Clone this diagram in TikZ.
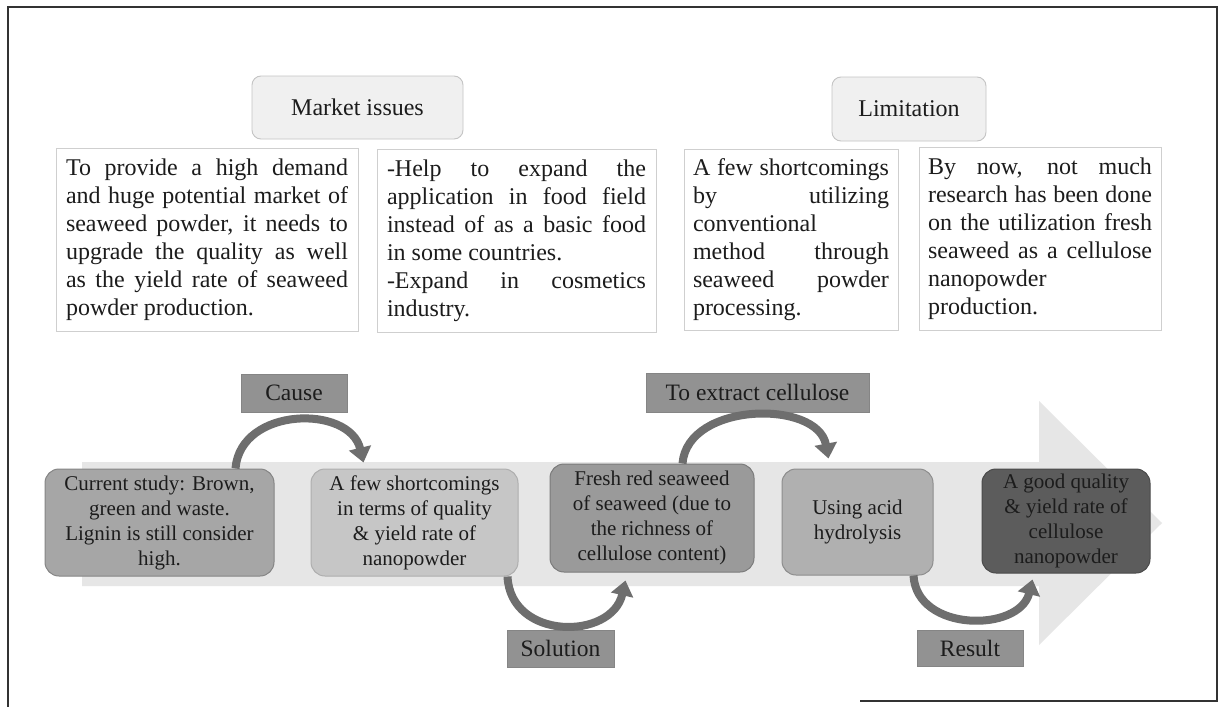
\documentclass[tikz,border=0pt]{standalone}
\usepackage{fontspec}
\setmainfont{Liberation Serif}
\usetikzlibrary{arrows.meta,calc}
\definecolor{framecol}{HTML}{333333}
\definecolor{bigarr}{HTML}{E6E6E6}
\definecolor{arrcol}{HTML}{6E6E6E}
\definecolor{hdfill}{HTML}{F0F0F0}
\definecolor{hdline}{HTML}{C4C4C4}
\definecolor{txline}{HTML}{CFCFCF}
\definecolor{lblfill}{HTML}{929292}
\definecolor{lblline}{HTML}{858585}
\definecolor{fa}{HTML}{A6A6A6}
\definecolor{fb}{HTML}{C6C6C6}
\definecolor{fc}{HTML}{9A9A9A}
\definecolor{fd}{HTML}{B0B0B0}
\definecolor{fe}{HTML}{5C5C5C}
\definecolor{txt}{HTML}{1C1C1C}
\newcommand{\jl}[1]{\makebox[\linewidth][s]{\spaceskip=0pt\xspaceskip=0pt\relax #1}\\}
\tikzset{
  hdbox/.style={draw=hdline, fill=hdfill, rounded corners=9pt, line width=0.9pt, inner sep=0pt, text=txt, font=\fontsize{24}{28}\selectfont},
  txbox/.style={draw=txline, fill=white, line width=0.9pt, inner xsep=10pt, inner ysep=0pt, align=justify, text=txt, font=\fontsize{24}{28}\selectfont},
  flbox/.style={rounded corners=14pt, line width=1pt, inner sep=0pt, align=center, text=txt, font=\fontsize{21}{25}\selectfont},
  lblbox/.style={draw=lblline, fill=lblfill, line width=0.8pt, inner sep=0pt, text=txt, font=\fontsize{23.5}{27}\selectfont},
  carrow/.style={draw=arrcol, line width=8pt, -{Triangle[width=22pt,length=15pt]}}
}
\begin{document}
\begin{tikzpicture}[x=1pt,y=-1pt]
\useasboundingbox (0,0) rectangle (1227,707);
\fill[white] (0,0) rectangle (1227,707);
% frame
\draw[framecol, line width=1.6pt] (8,707) -- (8,7) -- (1217,7) -- (1217,701) -- (860,701);
% big background arrow
\fill[bigarr] (82,462) -- (1039,462) -- (1039,401) -- (1162,523) -- (1039,645) -- (1039,586) -- (82,586) -- cycle;

% headers
\node[hdbox, minimum width=211pt, minimum height=63pt] (mi) at (357.5,107.5) {Market issues};
\node[hdbox, minimum width=154pt, minimum height=64pt] (lim) at (909,109) {Limitation};

% text boxes
\node[txbox, text width=282pt, minimum height=183pt] (t1) at (207,239.5) {%
\jl{To provide a high demand}
\jl{and huge potential market of}
\jl{seaweed powder, it needs to}
\jl{upgrade the quality as well}
\jl{as the yield rate of seaweed}
powder production.};
\node[txbox, text width=259pt, minimum height=183pt] (t2) at (516.5,240.5) {%
\jl{-Help to expand the}
\jl{application in food field}
\jl{instead of as a basic food}
in some countries.\\
\jl{-Expand in cosmetics}
industry.};
\node[txbox, inner xsep=9pt, text width=196pt, minimum height=181pt] (t3) at (791,239.5) {%
\jl{A few shortcomings}
\jl{by utilizing}
conventional\\
\jl{method through}
\jl{seaweed powder}
processing.};
\node[txbox, inner xsep=9pt, text width=224pt, minimum height=183pt] (t4) at (1040,238.5) {%
\jl{By now, not much}
\jl{research has been done}
\jl{on the utilization fresh}
\jl{seaweed as a cellulose}
nanopowder\\
production.};

% flow boxes
\node[flbox, draw=fa!80!black, fill=fa, minimum width=229pt, minimum height=107pt] (cs) at (159.5,522.5) {Current study: Brown,\\ green and waste.\\ Lignin is still consider\\ high.};
\node[flbox, draw=fb!88!black, fill=fb, minimum width=207pt, minimum height=107pt] (fs) at (414.5,522.5) {A few shortcomings\\ in terms of quality\\ \& yield rate of\\ nanopowder};
\node[flbox, draw=fc!80!black, fill=fc, minimum width=204pt, minimum height=108pt] (fr) at (652,518) {Fresh red seaweed\\ of seaweed (due to\\ the richness of\\ cellulose content)};
\node[flbox, draw=fd!80!black, fill=fd, minimum width=151pt, minimum height=106pt] (ua) at (857.5,522) {Using acid\\ hydrolysis};
\node[flbox, draw=fe!80!black, fill=fe, minimum width=168pt, minimum height=104pt] (gq) at (1066,521) {A good quality\\ \& yield rate of\\ cellulose\\ nanopowder};

% labels
\node[lblbox, minimum width=106pt, minimum height=38pt] (lc) at (294,393) {Cause};
\node[lblbox, minimum width=223pt, minimum height=39pt] (le) at (757.5,392.5) {To extract cellulose};
\node[lblbox, minimum width=107pt, minimum height=37pt] (ls) at (560.5,648.5) {Solution};
\node[lblbox, minimum width=106pt, minimum height=36pt] (lr) at (970,648) {Result};

% curved arrows
\draw[carrow] ([xshift=-39pt]cs.north east) .. controls +(5,-62) and +(-14,-58) .. ([xshift=53pt,yshift=6pt]fs.north west);
\draw[carrow] ([xshift=133pt]fr.north west) .. controls +(5,-62) and +(-11,-59) .. ([xshift=47pt,yshift=10pt]ua.north west);
\draw[carrow] ([xshift=-11pt]fs.south east) .. controls +(3,64) and +(-14,60) .. ([xshift=76pt,yshift=-8pt]fr.south west);
\draw[carrow] ([xshift=-20pt]ua.south east) .. controls +(3,57) and +(-13,53) .. ([xshift=51pt,yshift=-6pt]gq.south west);
\end{tikzpicture}
\end{document}
